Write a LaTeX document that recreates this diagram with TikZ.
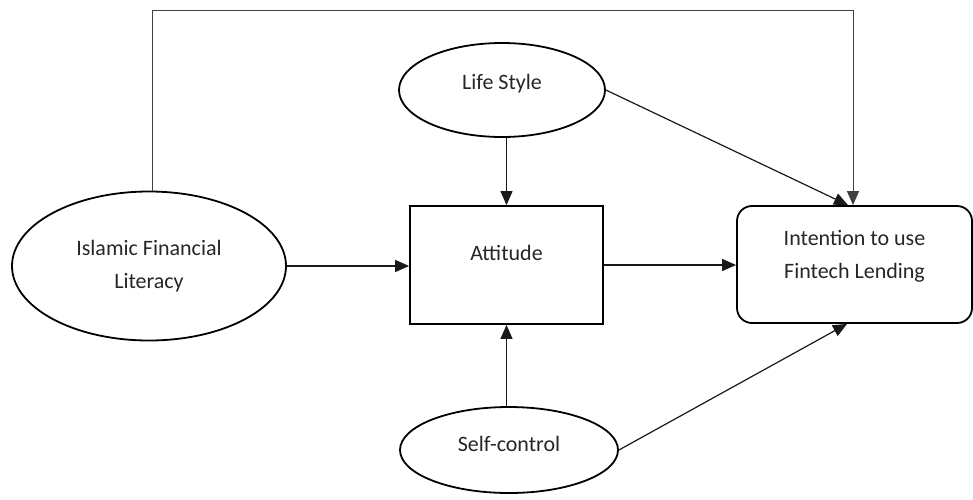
\documentclass[tikz,border=0pt]{standalone}
\usepackage{fontspec}
\setmainfont{Carlito}
\usetikzlibrary{shapes.geometric,arrows.meta,calc}
\begin{document}
\begin{tikzpicture}[x=1pt,y=-1pt,
  txt/.style={font=\fontsize{22}{33}\selectfont, text=black!85, align=center},
  oval/.style={ellipse, draw=black, line width=1.8pt, inner sep=0pt},
  box/.style={rectangle, draw=black, line width=1.8pt, inner sep=0pt},
  rbox/.style={rectangle, rounded corners=15pt, draw=black, line width=1.8pt, inner sep=0pt},
  link/.style={draw=black!90, line width=1.2pt, -{Triangle[length=14pt,width=12pt]}},
]
\useasboundingbox (0,0) rectangle (973,499);

% constructs
\node[oval, minimum width=274pt, minimum height=149pt] (ifl) at (149,266) {};
\node[txt] (ifltext) at (ifl.center) {Islamic Financial\\Literacy};
\node[oval, minimum width=206pt, minimum height=94pt] (ls) at (502,90) {};
\node[txt] (lstext) at (ls.center) [yshift=6pt] {Life Style};
\node[box, minimum width=193pt, minimum height=118pt] (att) at (506.5,265) {};
\node[txt] (atttext) at (att.center) [yshift=12pt] {Attitude};
\node[oval, minimum width=218pt, minimum height=86pt] (sc) at (509,450) {};
\node[txt] (sctext) at (sc.center) [yshift=6pt] {Self-control};
\node[rbox, minimum width=235pt, minimum height=117pt] (int) at (854.5,264.5) {};
\node[txt] (inttext) at (int.center) [yshift=8pt] {Intention to use\\Fintech Lending};

% paths
\coordinate (topL) at (152,10);
\coordinate (topR) at (853,10);
\draw[link, line width=1pt, draw=black!75] (ifl.north -| topL) -- (topL) -- (topR) -- (topR |- int.north);
\draw[link] (ifl.east) -- (ifl.east -| att.west);
\draw[link] (att.east) -- (att.east -| int.west);
\draw[link] (att.north |- ls.south) -- (att.north);
\draw[link] (att.south |- sc.north) -- (att.south);
\draw[link] (ls.east) -- ($(int.north)+(-6.5,0)$);
\draw[link] (sc.east) -- ($(int.south)+(-7.5,0)$);
\end{tikzpicture}
\end{document}
